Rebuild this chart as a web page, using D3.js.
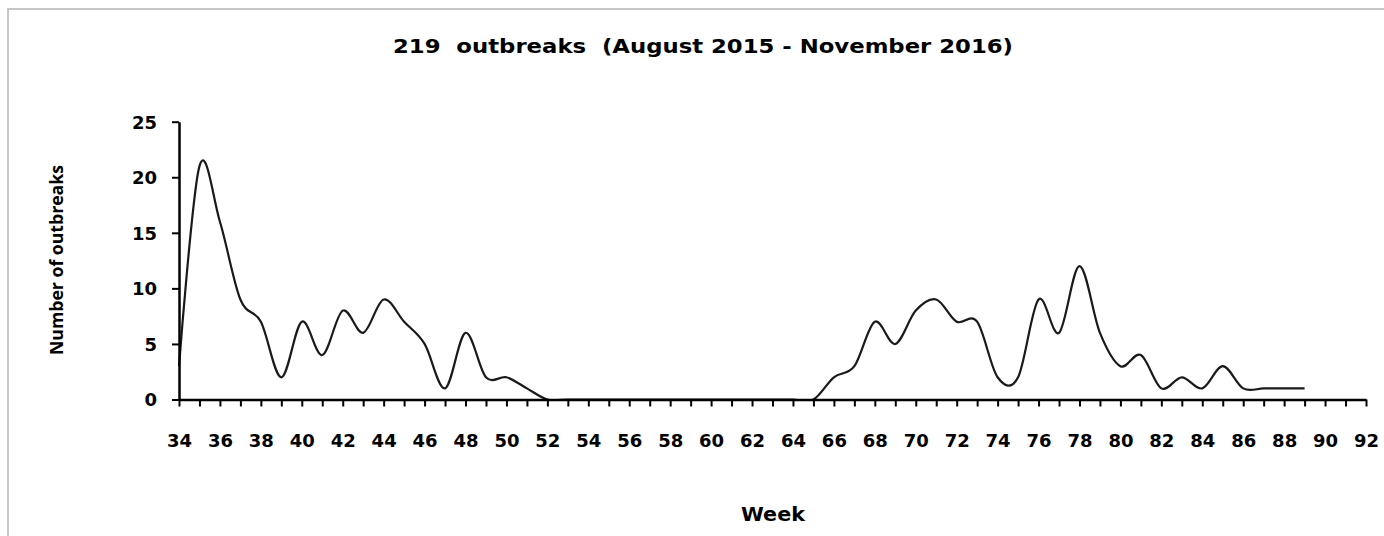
<!DOCTYPE html>
<html>
<head>
<meta charset="utf-8">
<script src="https://cdn.jsdelivr.net/npm/d3@7"></script>
<style>
  html, body { margin: 0; padding: 0; background: #fff; }
  svg { display: block; }
  text { font-family: "DejaVu Sans", sans-serif; font-weight: bold; fill: #000; }
</style>
</head>
<body>
<svg id="chart" width="1384" height="536"></svg>
<script>
// ---- data ----
const weeks = [34,35,36,37,38,39,40,41,42,43,44,45,46,47,48,49,50,51,52,
               53,54,55,56,57,58,59,60,61,62,63,64,65,
               66,67,68,69,70,71,72,73,74,75,76,77,78,79,80,81,82,83,84,85,86,87,88,89];
const outbreaks = [3,21,16,9,7,2,7,4,8,6,9,7,5,1,6,2,2,1,0,
                   0,0,0,0,0,0,0,0,0,0,0,0,0,
                   2,3,7,5,8,9,7,7,2,2,9,6,12,6,3,4,1,2,1,3,1,1,1,1];
const weekTicks = [34,35,36,37,38,39,40,41,42,43,44,45,46,47,48,49,50,51,52,53,54,55,56,57,58,59,60,61,62,63,
                   64,65,66,67,68,69,70,71,72,73,74,75,76,77,78,79,80,81,82,83,84,85,86,87,88,89,90,91,92];
const weekLabels = [34,36,38,40,42,44,46,48,50,52,54,56,58,60,62,64,66,68,70,72,74,76,78,80,82,84,86,88,90,92];
const yTicks = [0,5,10,15,20,25];
const titleText = "219  outbreaks  (August 2015 - November 2016)";
const xTitle = "Week";
const yTitle = "Number of outbreaks";

// ---- layout ----
const svg = d3.select("#chart");
const x = d3.scaleLinear().domain([34, 92]).range([179, 1366]);
const y = d3.scaleLinear().domain([0, 25]).range([399.5, 121.7]);

// outer frame (top/left visible)
svg.append("rect").attr("x", 8).attr("y", 9).attr("width", 1400).attr("height", 560)
  .attr("fill", "none").attr("stroke", "#c6c6c6").attr("stroke-width", 2);

// title
svg.append("text").attr("x", 703).attr("y", 53).attr("text-anchor", "middle")
  .attr("textLength", 620).attr("lengthAdjust", "spacingAndGlyphs")
  .style("font-size", "20px").style("white-space", "pre").text(titleText);

// clip for line (above axis)
svg.append("clipPath").attr("id", "clip").append("rect")
  .attr("x", 170).attr("y", 100).attr("width", 1200).attr("height", y(0) - 100 + 1);

const line = d3.line()
  .x((d, i) => x(weeks[i]))
  .y(d => y(d))
  .curve(d3.curveCardinal.tension(0));

svg.append("path").datum(outbreaks)
  .attr("clip-path", "url(#clip)")
  .attr("d", line)
  .attr("fill", "none").attr("stroke", "#1a1a1a").attr("stroke-width", 2.2)
  .attr("stroke-linejoin", "round");

// x axis
const xAxis = d3.axisBottom(x).tickValues(weekTicks).tickSize(7).tickSizeOuter(0)
  .tickFormat(d => weekLabels.includes(d) ? d : "");
const gx = svg.append("g").attr("transform", `translate(0,${y(0)})`).call(xAxis);
gx.select(".domain").attr("stroke", "#000").attr("stroke-width", 2.5);
gx.selectAll(".tick line").attr("stroke", "#000").attr("stroke-width", 2);
gx.selectAll(".tick text").attr("dy", 0).attr("y", 47)
  .style("font-size", "18px");

// y axis
const yAxis = d3.axisLeft(y).tickValues(yTicks).tickSize(7).tickSizeOuter(0).tickFormat(d => d);
const gy = svg.append("g").attr("transform", `translate(${x(34)},0)`).call(yAxis);
gy.select(".domain").attr("stroke", "#000").attr("stroke-width", 2.5);
gy.selectAll(".tick line").attr("stroke", "#000").attr("stroke-width", 2);
gy.selectAll(".tick text").attr("x", -22).attr("dy", "0.36em")
  .style("font-size", "18px");

// axis titles
svg.append("text").attr("x", 773).attr("y", 521).attr("text-anchor", "middle")
  .attr("textLength", 64).attr("lengthAdjust", "spacingAndGlyphs")
  .style("font-size", "19px").text(xTitle);
svg.append("text").attr("transform", "translate(63,260) rotate(-90)").attr("text-anchor", "middle")
  .attr("textLength", 190).attr("lengthAdjust", "spacingAndGlyphs")
  .style("font-family", "'Open Sans', sans-serif")
  .style("font-size", "17px").text(yTitle);
</script>
</body>
</html>
